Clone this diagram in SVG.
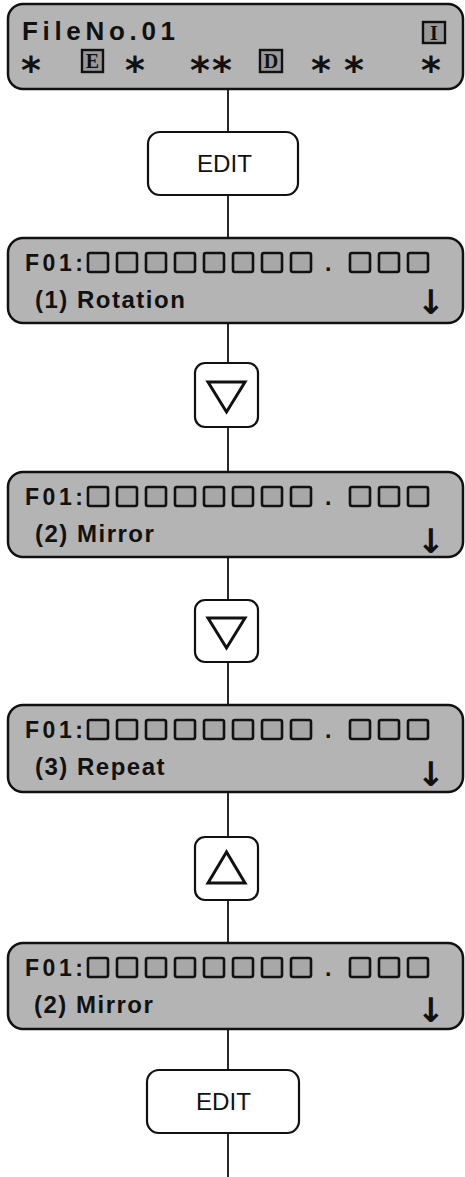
<svg xmlns="http://www.w3.org/2000/svg" width="465" height="1177" viewBox="0 0 465 1177">
<style>
.lcd{fill:#b4b4b4;stroke:#111;stroke-width:2.5}
.key{fill:#fff;stroke:#111;stroke-width:2.2}
.tri{fill:none;stroke:#111;stroke-width:3;stroke-linejoin:miter}
.cell{fill:#a8a8a8;stroke:#111;stroke-width:2.6}
.conn{stroke:#111;stroke-width:1.8;fill:none}
.t1{font-family:"Liberation Sans",Arial,sans-serif;font-weight:bold;font-size:23px;fill:#111}
.t2{font-family:"Liberation Sans",Arial,sans-serif;font-weight:bold;font-size:24px;fill:#111;letter-spacing:1.5px}
.arr{font-family:"DejaVu Sans",sans-serif;font-weight:bold;font-size:34px;fill:#111}
.edit{font-family:"Liberation Sans",Arial,sans-serif;font-size:24px;fill:#111}
.ast{font-family:"DejaVu Sans",sans-serif;font-weight:bold;font-size:38px;fill:#111}
.bl{font-family:"Liberation Serif",serif;font-weight:bold;font-size:20px;fill:#111}
</style>
<defs>
<g id="cells">
<rect class="cell" x="88" y="0" width="20" height="19" rx="2"/>
<rect class="cell" x="117" y="0" width="20" height="19" rx="2"/>
<rect class="cell" x="146" y="0" width="20" height="19" rx="2"/>
<rect class="cell" x="175" y="0" width="20" height="19" rx="2"/>
<rect class="cell" x="204" y="0" width="20" height="19" rx="2"/>
<rect class="cell" x="233" y="0" width="20" height="19" rx="2"/>
<rect class="cell" x="262" y="0" width="20" height="19" rx="2"/>
<rect class="cell" x="291" y="0" width="20" height="19" rx="2"/>
<rect class="cell" x="350" y="0" width="20" height="19" rx="2"/>
<rect class="cell" x="379" y="0" width="20" height="19" rx="2"/>
<rect class="cell" x="408" y="0" width="20" height="19" rx="2"/>
</g>
</defs>

<g id="connectors">
<line class="conn" x1="228" y1="89" x2="228" y2="132"/>
<line class="conn" x1="228" y1="195" x2="228" y2="238"/>
<line class="conn" x1="228" y1="323" x2="228" y2="363"/>
<line class="conn" x1="228" y1="427" x2="228" y2="472"/>
<line class="conn" x1="228" y1="557" x2="228" y2="600"/>
<line class="conn" x1="228" y1="662" x2="228" y2="705"/>
<line class="conn" x1="228" y1="790" x2="228" y2="837"/>
<line class="conn" x1="228" y1="900" x2="228" y2="943"/>
<line class="conn" x1="228" y1="1028" x2="228" y2="1070"/>
<line class="conn" x1="228" y1="1133" x2="228" y2="1177"/>
</g>

<g id="lcd0">
<rect class="lcd" x="8" y="4" width="455" height="85" rx="15"/>
<text class="t1" x="22" y="40" textLength="153" lengthAdjust="spacing" style="font-size:26px">FileNo.01</text>
<rect x="423" y="22" width="22" height="21" fill="#999" stroke="#111" stroke-width="2.4"/>
<text class="bl" x="434" y="40" text-anchor="middle">I</text>
<text class="ast" x="31" y="83" text-anchor="middle">*</text>
<rect x="82" y="50" width="21" height="22" fill="#999" stroke="#111" stroke-width="2.4"/>
<text class="bl" x="92.5" y="68" text-anchor="middle">E</text>
<text class="ast" x="135" y="83" text-anchor="middle">*</text>
<text class="ast" x="200" y="83" text-anchor="middle">*</text>
<text class="ast" x="222" y="83" text-anchor="middle">*</text>
<rect x="260" y="50" width="22" height="22" fill="#999" stroke="#111" stroke-width="2.4"/>
<text class="bl" x="271" y="68" text-anchor="middle">D</text>
<text class="ast" x="321" y="83" text-anchor="middle">*</text>
<text class="ast" x="354" y="83" text-anchor="middle">*</text>
<text class="ast" x="431" y="83" text-anchor="middle">*</text>
</g>

<g id="edit1">
<rect class="key" x="148" y="132" width="150" height="63" rx="12"/>
<text class="edit" x="197" y="172" textLength="55" lengthAdjust="spacingAndGlyphs">EDIT</text>
</g>

<g id="lcd1">
<rect class="lcd" x="8" y="238" width="455" height="85" rx="15"/>
<text class="t1" x="25" y="271" textLength="58" lengthAdjust="spacing">F01:</text>
<use href="#cells" y="253"/>
<text class="t1" x="325" y="271">.</text>
<text class="t2" x="35" y="308">(1) Rotation</text>
<text class="arr" x="431" y="314" text-anchor="middle">↓</text>
</g>

<g id="down1">
<rect class="key" x="195" y="363" width="63" height="64" rx="10"/>
<polygon class="tri" points="208,382 245,382 226.5,412"/>
</g>

<g id="lcd2">
<rect class="lcd" x="8" y="472" width="455" height="85" rx="15"/>
<text class="t1" x="25" y="505" textLength="58" lengthAdjust="spacing">F01:</text>
<use href="#cells" y="487"/>
<text class="t1" x="325" y="505">.</text>
<text class="t2" x="35" y="542">(2) Mirror</text>
<text class="arr" x="431" y="553" text-anchor="middle">↓</text>
</g>

<g id="down2">
<rect class="key" x="195" y="600" width="63" height="62" rx="10"/>
<polygon class="tri" points="208,618 245,618 226.5,648"/>
</g>

<g id="lcd3">
<rect class="lcd" x="8" y="705" width="455" height="87" rx="15"/>
<text class="t1" x="25" y="738" textLength="58" lengthAdjust="spacing">F01:</text>
<use href="#cells" y="720"/>
<text class="t1" x="325" y="738">.</text>
<text class="t2" x="35" y="775">(3) Repeat</text>
<text class="arr" x="431" y="786" text-anchor="middle">↓</text>
</g>

<g id="up1">
<rect class="key" x="195" y="837" width="63" height="63" rx="10"/>
<polygon class="tri" points="226.5,852 208,883 245,883"/>
</g>

<g id="lcd4">
<rect class="lcd" x="8" y="943" width="455" height="86" rx="15"/>
<text class="t1" x="25" y="976" textLength="58" lengthAdjust="spacing">F01:</text>
<use href="#cells" y="958"/>
<text class="t1" x="325" y="976">.</text>
<text class="t2" x="34" y="1013">(2) Mirror</text>
<text class="arr" x="431" y="1022" text-anchor="middle">↓</text>
</g>

<g id="edit2">
<rect class="key" x="147" y="1070" width="152" height="63" rx="12"/>
<text class="edit" x="196" y="1110" textLength="55" lengthAdjust="spacingAndGlyphs">EDIT</text>
</g>
</svg>
